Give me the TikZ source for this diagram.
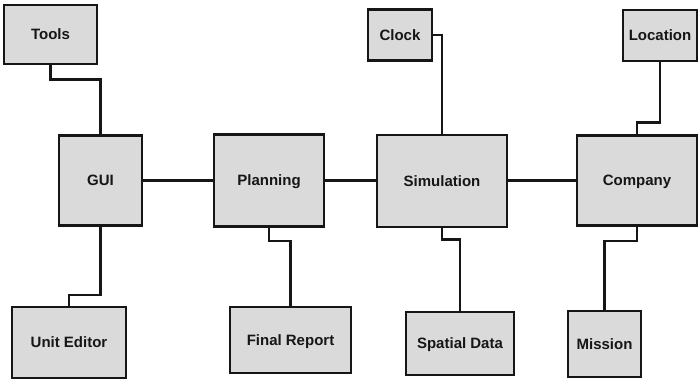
\documentclass[tikz,border=0pt]{standalone}
\usepackage{fontspec}
\setmainfont{Liberation Sans}
\definecolor{boxfill}{RGB}{218,218,218}
\definecolor{boxline}{RGB}{22,22,22}
\begin{document}
\begin{tikzpicture}[x=1pt,y=-1pt,
  blk/.style={draw=boxline,fill=boxfill,line width=2.8pt,rectangle,inner sep=0pt,
    text height=10.7pt,text depth=0pt,
    font=\fontsize{15}{17}\selectfont\bfseries,text=boxline},
  link/.style={draw=boxline,line width=2.8pt}]
\useasboundingbox (0,0) rectangle (700,381);
\node[blk,minimum width=93pt,minimum height=59pt] (tools) at (50.5,34.5) {Tools};
\node[blk,minimum width=83pt,minimum height=90pt] (gui) at (100.5,180.5) {GUI};
\node[blk,minimum width=114pt,minimum height=71pt] (unit) at (69,342.5) {Unit Editor};
\node[blk,minimum width=110pt,minimum height=92pt] (planning) at (269,180.5) {Planning};
\node[blk,minimum width=121pt,minimum height=66pt] (final) at (290.5,340) {Final Report};
\node[blk,minimum width=64pt,minimum height=51pt] (clock) at (400,35) {Clock};
\node[blk,minimum width=130pt,minimum height=92pt] (sim) at (442,181) {Simulation};
\node[blk,minimum width=108pt,minimum height=63pt] (spatial) at (460,343.5) {Spatial Data};
\node[blk,minimum width=74pt,minimum height=51pt] (location) at (660,35.5) {Location};
\node[blk,minimum width=120pt,minimum height=90pt] (company) at (637,180.5) {Company};
\node[blk,minimum width=73pt,minimum height=66pt] (mission) at (604.5,344) {Mission};
\draw[link] (gui.east) -- (planning.west);
\draw[link] (planning.east) -- (sim.west |- planning.east);
\draw[link] (sim.east |- company.west) -- (company.west);
\draw[link] (tools.south) -- ++(0,14) -| (gui.north);
\draw[link] (gui.south) -- ++(0,68) -| (unit.north);
\draw[link] (planning.south) -- ++(0,13) -| (final.north);
\draw[link] (clock.east) -| (sim.north);
\draw[link] (sim.south) -- ++(0,11) -| (spatial.north);
\draw[link] (location.south) -- ++(0,60) -| (company.north);
\draw[link] (company.south) -- ++(0,14) -| (mission.north);
\end{tikzpicture}
\end{document}
